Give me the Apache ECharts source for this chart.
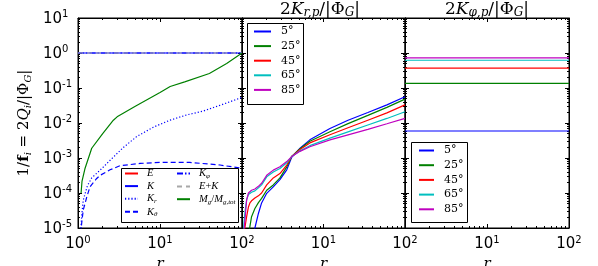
<!DOCTYPE html>
<html>
<head>
<meta charset="utf-8">
<script src="https://cdn.jsdelivr.net/npm/echarts@6.0.0/dist/echarts.min.js"></script>
<style>
html,body{margin:0;padding:0;background:#ffffff;}
#chart{width:598px;height:266px;}
</style>
</head>
<body>
<div id="chart"></div>
<script>
// ---------------- data ----------------
const leftNames = ['E', 'K', 'K_r', 'K_θ', 'K_φ', 'E+K', 'M_g/M_g,tot'];
const r_E = [];
const E_vals = [];
const r_K = [1, 100];
const K_vals = [1, 1];
const r_Kr = [1.08, 1.11, 1.16, 1.3, 1.47, 1.95, 2.45, 3.57, 5.2, 8.3, 13.2, 21.1, 33.8, 60, 100];
const Kr_vals = [8e-6, 2.3e-5, 6.3e-5, 1.6e-4, 2.7e-4, 5e-4, 8.5e-4, 2.0e-3, 4.1e-3, 7.6e-3, 1.2e-2, 1.7e-2, 2.2e-2, 3.5e-2, 5.4e-2];
const r_Kt = [1.08, 1.11, 1.16, 1.28, 1.4, 1.69, 1.86, 2.46, 3.25, 5.7, 10, 23, 54, 94, 100];
const Kt_vals = [7e-6, 1.4e-5, 3.3e-5, 7.7e-5, 1.5e-4, 2.6e-4, 3.2e-4, 4.6e-4, 6e-4, 7e-4, 7.5e-4, 7.5e-4, 6.3e-4, 5.2e-4, 5.1e-4];
const r_Kp = [1, 100];
const Kp_vals = [1, 1];
const r_EK = [1, 100];
const EK_vals = [1, 1];
const r_M = [1.09, 1.12, 1.22, 1.47, 2.0, 2.7, 3.0, 5.0, 10, 13.3, 20, 40, 65, 100];
const M_vals = [1e-4, 2.2e-4, 5.1e-4, 1.9e-3, 5e-3, 1.2e-2, 1.5e-2, 3.0e-2, 7.4e-2, 0.11, 0.15, 0.26, 0.5, 1.0];

const angleNames = ['5°', '25°', '45°', '65°', '85°'];
const r_mid = [1.04, 1.06, 1.09, 1.14, 1.2, 1.25, 1.31, 1.44, 1.59, 1.74, 2.01, 2.42, 2.92, 3.54, 4.07, 5.15, 6.8, 12, 20, 35, 60, 100];
const mid5  = [null, null, null, null, null, null, 4e-6, 1.0e-5, 2.6e-5, 5.2e-5, 9.8e-5, 1.5e-4, 2.4e-4, 4.6e-4, 1.05e-3, 1.9e-3, 3.3e-3, 7.0e-3, 1.2e-2, 2.0e-2, 3.3e-2, 5.6e-2];
const mid25 = [null, null, null, null, 6e-6, 1.1e-5, 2.1e-5, 3.6e-5, 5.3e-5, 7e-5, 1.2e-4, 1.7e-4, 2.7e-4, 5.6e-4, 1.1e-3, 1.85e-3, 3.0e-3, 5.6e-3, 9.6e-3, 1.65e-2, 2.8e-2, 4.8e-2];
const mid45 = [null, 6e-6, 1.1e-5, 2.1e-5, 4.0e-5, 5.2e-5, 6.0e-5, 7.2e-5, 8.3e-5, 1.0e-4, 1.7e-4, 2.7e-4, 3.6e-4, 6.3e-4, 1.1e-3, 1.75e-3, 2.7e-3, 4.6e-3, 7.3e-3, 1.2e-2, 1.95e-2, 3.3e-2];
const mid65 = [7e-6, 1.5e-5, 3e-5, 6.5e-5, 9e-5, 1.0e-4, 1.05e-4, 1.15e-4, 1.4e-4, 1.7e-4, 2.9e-4, 4.0e-4, 5.0e-4, 7.3e-4, 1.1e-3, 1.6e-3, 2.25e-3, 3.7e-3, 5.6e-3, 8.8e-3, 1.35e-2, 2.1e-2];
const mid85 = [6e-6, 9e-6, 1.8e-5, 6.3e-5, 1.0e-4, 1.1e-4, 1.2e-4, 1.3e-4, 1.55e-4, 1.9e-4, 3.2e-4, 4.5e-4, 5.6e-4, 7.9e-4, 1.1e-3, 1.55e-3, 2.1e-3, 3.3e-3, 4.6e-3, 6.6e-3, 9.5e-3, 1.35e-2];

const r_right = [1, 100];
const right5 = [0.0059, 0.0059];
const right25 = [0.136, 0.136];
const right45 = [0.37, 0.37];
const right65 = [0.62, 0.62];
const right85 = [0.73, 0.73];

// ---------------- chart ----------------
const SERIF = 'DejaVu Serif';
const LSERIF = 'Liberation Serif';
const SANS = 'DejaVu Sans';
const BLUE = '#0000ff', GREEN = '#008000', RED = '#ff0000', CYAN = '#00bfbf', MAGENTA = '#bf00bf', GRAY = '#a8a8a8';
const angleColors = [BLUE, GREEN, RED, CYAN, MAGENTA];

function pairs(rs, vs) { return rs.map((r, i) => [r, vs[i]]); }

const grids = [
  {left: 78, top: 18, width: 164, height: 210},
  {left: 242, top: 18, width: 163, height: 210},
  {left: 405, top: 18, width: 164, height: 210}
];

const tickRich = {
  b: {fontFamily: SANS, fontSize: 15, color: '#000', lineHeight: 17, verticalAlign: 'bottom'},
  e: {fontFamily: SANS, fontSize: 10, color: '#000', lineHeight: 10, verticalAlign: 'top'}
};
const mathRich = {
  n: {fontFamily: SERIF, fontWeight: 'normal', fontSize: 15, color: '#000', lineHeight: 18, verticalAlign: 'middle'},
  i: {fontFamily: SERIF, fontWeight: 'normal', fontStyle: 'italic', fontSize: 15, color: '#000', lineHeight: 18, verticalAlign: 'middle'},
  b: {fontFamily: SERIF, fontWeight: 'bold', fontSize: 15, color: '#000', lineHeight: 18, verticalAlign: 'middle'},
  s: {fontFamily: SERIF, fontWeight: 'normal', fontStyle: 'italic', fontSize: 10, color: '#000', lineHeight: 10, verticalAlign: 'bottom'}
};

function expLabel(gi) {
  return function (v) {
    const e = Math.round(Math.log10(v));
    if (gi > 0 && e === 0) return '';
    return '{b|10}{e|' + e + '}';
  };
}

const xAxes = [], yAxes = [];
grids.forEach((g, gi) => {
  ['bottom', 'top'].forEach(pos => {
    xAxes.push({
      type: 'log', logBase: 10, gridIndex: gi, position: pos, min: 1, max: 100,
      axisLine: {show: true, onZero: false, lineStyle: {color: '#000', width: 1}},
      axisTick: {show: true, inside: true, length: 4, lineStyle: {color: '#000', width: 1}},
      minorTick: {show: true, splitNumber: 9, length: 2, lineStyle: {color: '#000', width: 1}},
      splitLine: {show: false}, minorSplitLine: {show: false},
      axisLabel: pos === 'bottom' ? {show: true, margin: 7, formatter: expLabel(gi), rich: tickRich} : {show: false},
      name: pos === 'bottom' ? '{i|r}' : '',
      nameLocation: 'middle', nameGap: 18,
      nameTextStyle: {rich: mathRich}
    });
  });
  ['left', 'right'].forEach(pos => {
    const ax = {
      type: 'log', logBase: 10, gridIndex: gi, position: pos, min: 1e-5, max: 10,
      axisLine: {show: true, onZero: false, lineStyle: {color: '#000', width: 1}},
      axisTick: {show: true, inside: true, length: 4, lineStyle: {color: '#000', width: 1}},
      minorTick: {show: true, splitNumber: 9, length: 2, lineStyle: {color: '#000', width: 1}},
      splitLine: {show: false}, minorSplitLine: {show: false},
      axisLabel: (pos === 'left' && gi === 0) ? {show: true, margin: 35, align: 'left', formatter: expLabel(0), rich: tickRich} : {show: false}
    };
    if (pos === 'left' && gi === 0) {
      ax.name = '{n|1/}{b|f}{s|i}{n| = 2}{i|Q}{s|i}{n|/|Φ}{s|G}{n||}';
      ax.nameLocation = 'middle';
      ax.nameGap = 45;
      ax.nameRotate = 90;
      ax.nameTextStyle = {rich: mathRich};
    }
    yAxes.push(ax);
  });
});

function line(name, gi, rs, vs, color, type, z) {
  return {
    name: name, type: 'line', xAxisIndex: gi * 2, yAxisIndex: gi * 2,
    data: pairs(rs, vs), symbol: 'none', showSymbol: false, clip: true,
    lineStyle: {color: color, width: 1.2, type: type},
    itemStyle: {color: color},
    z: z || 2, silent: true, animation: false
  };
}

const series = [
  line('E', 0, r_E, E_vals, RED, 'solid'),
  line('K', 0, r_K, K_vals, BLUE, 'solid'),
  line('K_r', 0, r_Kr, Kr_vals, BLUE, [1.2, 2]),
  line('K_θ', 0, r_Kt, Kt_vals, BLUE, [5, 3]),
  line('K_φ', 0, r_Kp, Kp_vals, BLUE, [6, 2, 1.5, 2]),
  line('E+K', 0, r_EK, EK_vals, GRAY, [5, 4]),
  line('M_g/M_g,tot', 0, r_M, M_vals, GREEN, 'solid')
];
const midVals = [mid5, mid25, mid45, mid65, mid85];
const rightVals = [right5, right25, right45, right65, right85];
angleNames.forEach((nm, k) => {
  series.push(line(nm, 1, r_mid, midVals[k], angleColors[k], 'solid'));
});
angleNames.forEach((nm, k) => {
  series.push(line(nm, 2, r_right, rightVals[k], angleColors[k], 'solid'));
});

const leftLegendText = {
  'E': '{i0|E}', 'K': '{i0|K}', 'K_r': '{i0|K}{s|r}', 'K_θ': '{i0|K}{s|θ}', 'K_φ': '{i0|K}{s|φ}',
  'E+K': '{i0|E}{n|+}{i|K}', 'M_g/M_g,tot': '{i0|M}{s|g}{n|/}{i|M}{s|g,tot}'
};
const legRich = {
  i0: {fontFamily: LSERIF, fontStyle: 'italic', fontSize: 10.5, color: '#000', padding: [0, 0, 0, 4], lineHeight: 12, verticalAlign: 'middle'},
  i: {fontFamily: LSERIF, fontStyle: 'italic', fontSize: 10.5, color: '#000', lineHeight: 12, verticalAlign: 'middle'},
  n: {fontFamily: LSERIF, fontSize: 10.5, color: '#000', lineHeight: 12, verticalAlign: 'middle'},
  s: {fontFamily: LSERIF, fontStyle: 'italic', fontSize: 7, color: '#000', lineHeight: 8, verticalAlign: 'bottom'},
  a: {fontFamily: SERIF, fontSize: 11, color: '#000', padding: [0, 0, 0, 5], lineHeight: 12, verticalAlign: 'middle'}
};
function legend(data, left, top, itemWidth, gap, fmt) {
  return {
    data: data, orient: 'vertical', left: left, top: top, padding: 0,
    itemWidth: itemWidth, itemHeight: 12, itemGap: gap, selectedMode: false,
    itemStyle: {opacity: 0},
    formatter: fmt, textStyle: {rich: legRich, fontSize: 10}, z: 20
  };
}
const legends = [
  legend(leftNames.slice(0, 4), 124, 168, 13, 1.6, n => leftLegendText[n]),
  legend(leftNames.slice(4), 176, 168, 13, 1.6, n => leftLegendText[n]),
  legend(angleNames, 253, 26, 17, 3.6, n => '{a|' + n + '}'),
  legend(angleNames, 418, 145, 15, 3.7, n => '{a|' + n + '}')
];

const boxStyle = {fill: '#ffffff', stroke: '#000000', lineWidth: 1};
const graphic = [
  {type: 'rect', shape: {x: 121.5, y: 168.5, width: 117, height: 54}, style: boxStyle, z: 15},
  {type: 'rect', shape: {x: 247.5, y: 23.5, width: 56, height: 81}, style: boxStyle, z: 15},
  {type: 'rect', shape: {x: 411.5, y: 142.5, width: 56, height: 80}, style: boxStyle, z: 15}
];

const titleRich = {
  n: {fontFamily: SERIF, fontWeight: 'normal', fontSize: 17, color: '#000', lineHeight: 19, verticalAlign: 'middle'},
  i: {fontFamily: SERIF, fontWeight: 'normal', fontStyle: 'italic', fontSize: 17, color: '#000', lineHeight: 19, verticalAlign: 'middle'},
  s: {fontFamily: SERIF, fontWeight: 'normal', fontStyle: 'italic', fontSize: 12, color: '#000', lineHeight: 11, verticalAlign: 'bottom'}
};

const option = {
  animation: false,
  backgroundColor: '#ffffff',
  title: [
    {text: '{n|2}{i|K}{s|r,p}{n|/|Φ}{s|G}{n||}', left: 320, top: 0, textAlign: 'center', padding: 0, textStyle: {fontWeight: 'normal', rich: titleRich}},
    {text: '{n|2}{i|K}{s|φ,p}{n|/|Φ}{s|G}{n||}', left: 487, top: 0, textAlign: 'center', padding: 0, textStyle: {fontWeight: 'normal', rich: titleRich}}
  ],
  grid: grids.map(g => Object.assign({containLabel: false, outerBoundsMode: 'none', show: true, borderColor: '#000', borderWidth: 1, backgroundColor: 'transparent'}, g)),
  xAxis: xAxes,
  yAxis: yAxes,
  legend: legends,
  graphic: graphic,
  series: series
};

const chart = echarts.init(document.getElementById('chart'), null, {renderer: 'canvas'});
chart.setOption(option);
</script>
</body>
</html>
